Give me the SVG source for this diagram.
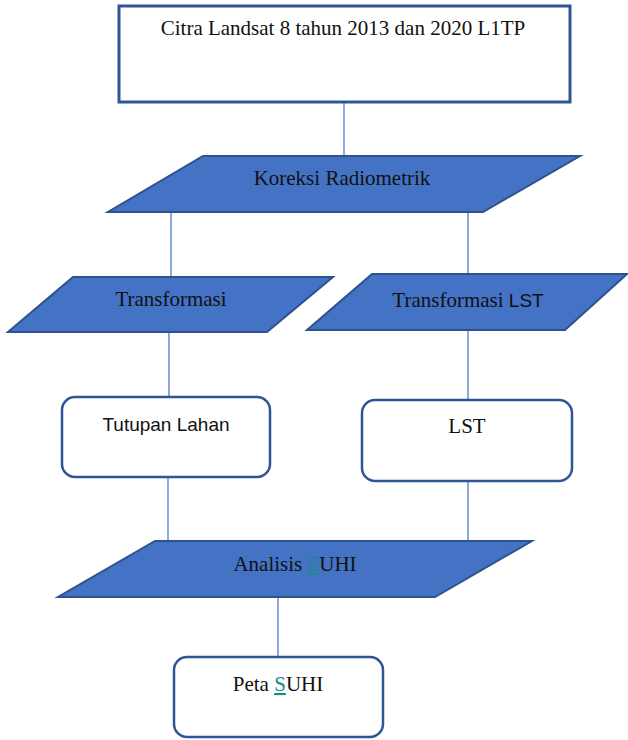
<svg xmlns="http://www.w3.org/2000/svg" width="628" height="740" viewBox="0 0 628 740">
<style>
.para{fill:#4472C4;stroke:#2F528F;stroke-width:2;stroke-linejoin:miter}
.box{fill:#FFFFFF;stroke:#2F5597;stroke-width:2.5}
.conn{stroke:#4472C4;stroke-width:1.2;fill:none}
.serif{font-family:"Liberation Serif","Times New Roman",serif;font-size:21px;fill:#111111;text-anchor:middle}
.sans{font-family:"Liberation Sans",Arial,sans-serif;font-size:19px;fill:#111111;text-anchor:middle}
.link{fill:#1A8A8A;text-decoration:underline}
</style>
<rect width="628" height="740" fill="#FFFFFF"/>
<g id="connectors">
<line class="conn" x1="344" y1="102" x2="344" y2="156"/>
<line class="conn" x1="171" y1="212" x2="171" y2="277"/>
<line class="conn" x1="468" y1="212" x2="468" y2="274"/>
<line class="conn" x1="169" y1="332" x2="169" y2="397"/>
<line class="conn" x1="468" y1="330" x2="468" y2="400"/>
<line class="conn" x1="168" y1="477" x2="168" y2="541"/>
<line class="conn" x1="468" y1="476" x2="468" y2="541"/>
<line class="conn" x1="278" y1="597" x2="278" y2="657"/>
</g>
<g id="citra">
<rect x="119" y="6" width="451" height="96" fill="#FFFFFF" stroke="#2F5597" stroke-width="3"/>
<text class="serif" x="343" y="35">Citra Landsat 8 tahun 2013 dan 2020 L1TP</text>
</g>
<g id="koreksi">
<polygon class="para" points="203,156 580,156 483,212 108,212"/>
<text class="serif" x="342" y="185">Koreksi Radiometrik</text>
</g>
<g id="transformasi">
<polygon class="para" points="73,277 333,277 267,332 8,332"/>
<text class="serif" x="171" y="306">Transformasi</text>
</g>
<g id="transformasi-lst">
<polygon class="para" points="372,274 627,274 565,330 307,330"/>
<text class="serif" x="468" y="307">Transformasi <tspan style="font-family:'Liberation Sans',Arial,sans-serif;font-size:19px">LST</tspan></text>
</g>
<g id="tutupan-lahan">
<rect class="box" x="62" y="397" width="208" height="80" rx="13" ry="13"/>
<text class="sans" x="166" y="431">Tutupan Lahan</text>
</g>
<g id="lst">
<rect class="box" x="362" y="400" width="210" height="81" rx="13" ry="13"/>
<text class="serif" x="467" y="433">LST</text>
</g>
<g id="analisis-suhi">
<polygon class="para" points="155,541 532,541 435,597 58,597"/>
<text class="serif" x="295" y="571">Analisis <tspan class="link">S</tspan>UHI</text>
</g>
<g id="peta-suhi">
<rect class="box" x="174" y="657" width="209" height="80" rx="13" ry="13"/>
<text class="serif" x="278" y="691">Peta <tspan class="link">S</tspan>UHI</text>
</g>
</svg>
